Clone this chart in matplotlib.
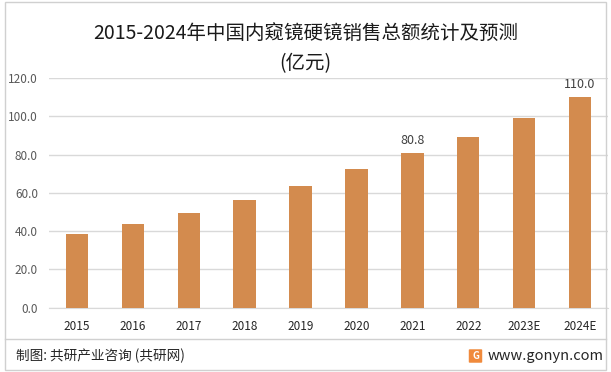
import matplotlib.pyplot as plt
from matplotlib.patches import FancyBboxPatch, Rectangle

plt.rcParams['font.family'] = ['Noto Sans CJK SC', 'DejaVu Sans']

# data
years = ['2015', '2016', '2017', '2018', '2019', '2020', '2021', '2022', '2023E', '2024E']
sales = [38.5, 43.6, 49.5, 56.3, 63.6, 72.4, 80.8, 89.3, 99.1, 110.0]
labeled = {'2021': '80.8', '2024E': '110.0'}
yticks = [0, 20, 40, 60, 80, 100, 120]

bar_color = '#D38B4E'
text_gray = '#595959'

fig = plt.figure(figsize=(6.11, 3.72), dpi=100)

# outer border
fig.patches.append(Rectangle((0.008, 0.005), 0.984, 0.99, transform=fig.transFigure,
                             fill=False, edgecolor='#d0d0d0', linewidth=1.0))

ax = fig.add_axes([49 / 611, 1 - 307.7 / 372, 559 / 611, 229.7 / 372])
x = range(len(years))
ax.bar(x, sales, width=0.4, color=bar_color, zorder=3)
ax.set_xlim(-0.5, len(years) - 0.5)
ax.set_ylim(0, 120)
ax.set_yticks(yticks)
ax.set_yticklabels([f'{v:.1f}' for v in yticks], color=text_gray, fontsize=8.5)
ax.set_xticks(list(x))
ax.set_xticklabels(years, color='#262626', fontsize=8.5)
ax.tick_params(length=0)
ax.tick_params(axis='x', pad=9)
ax.tick_params(axis='y', pad=8)
ax.grid(axis='y', color='#d9d9d9', linewidth=1.0, zorder=0)
for s in ['top', 'right', 'left']:
    ax.spines[s].set_visible(False)
ax.spines['bottom'].set_color('#d9d9d9')

for i, (yr, v) in enumerate(zip(years, sales)):
    if yr in labeled:
        ax.text(i, v + 3, labeled[yr], ha='center', va='bottom', fontsize=9, color='#404040')

fig.text(0.5, 1 - 33 / 372, '2015-2024年中国内窥镜硬镜销售总额统计及预测',
         ha='center', va='center', fontsize=14, color='#1a1a1a')
fig.text(0.5, 1 - 64 / 372, '(亿元)', ha='center', va='center', fontsize=14, color='#1a1a1a')

# footer separator
fig.add_artist(plt.Line2D([0.008, 0.992], [1 - 339 / 372, 1 - 339 / 372],
                          transform=fig.transFigure, color='#d0d0d0', linewidth=1.0))
fig.text(16 / 611, 1 - 356 / 372, '制图: 共研产业咨询 (共研网)', ha='left', va='center',
         fontsize=9.8, color='#262626')
fig.patches.append(FancyBboxPatch((470 / 611, 1 - 362 / 372), 11 / 611, 12 / 372,
                                  boxstyle='round,pad=0.002', transform=fig.transFigure,
                                  facecolor='#F08A3C', edgecolor='none'))
fig.text(475.5 / 611, 1 - 356 / 372, 'G', ha='center', va='center', fontsize=7,
         color='white', fontweight='bold')
fig.text(488 / 611, 1 - 356 / 372, 'www.gonyn.com', ha='left', va='center',
         fontsize=10.5, color='#262626')

fig.savefig('out.png', dpi=100)
